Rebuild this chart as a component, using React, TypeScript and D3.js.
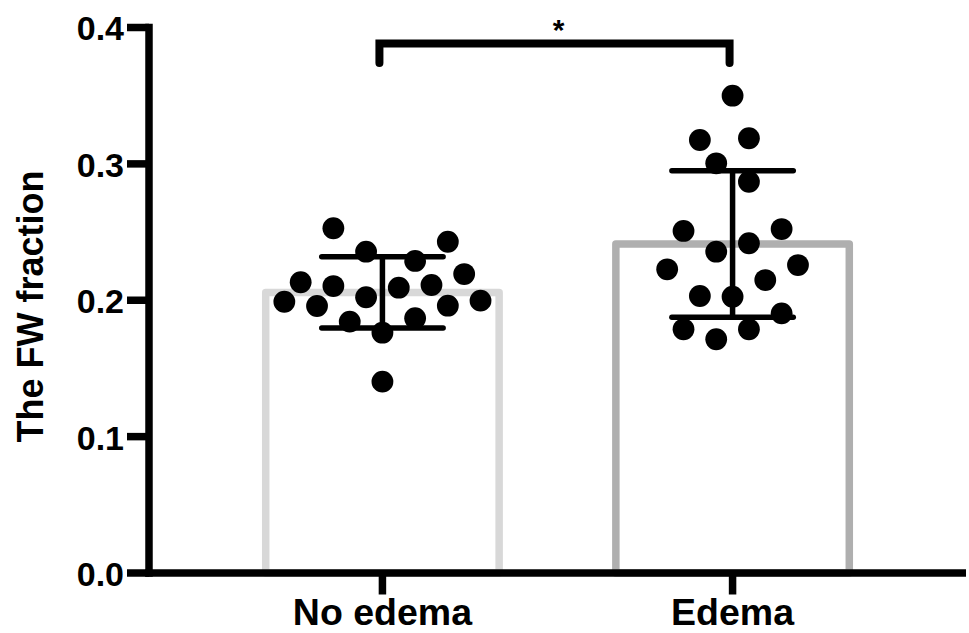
import React from 'react';
import * as d3 from 'd3';

// values
const categories = ['No edema', 'Edema'];
const noEdemaValues = [
  0.2528, 0.2356, 0.2429, 0.2288, 0.2132, 0.2104, 0.2192, 0.2092, 0.2112,
  0.1989, 0.1958, 0.2022, 0.196, 0.1997, 0.1843, 0.1868, 0.1762, 0.1403,
];
const edemaValues = [
  0.35, 0.3175, 0.3188, 0.3004, 0.2869, 0.2508, 0.2522, 0.2418, 0.2356,
  0.2227, 0.2258, 0.2148, 0.2031, 0.2026, 0.1904, 0.1787, 0.1787, 0.1714,
];
// beeswarm column of each dot (0 = on the category centre)
const noEdemaSlots = [-3, -1, 4, 2, -5, -3, 5, 1, 3, -6, -4, -1, 4, 6, -2, 2, 0, 0];
const edemaSlots = [0, -2, 1, -1, 1, -3, 3, 1, -1, -4, 4, 2, -2, 0, 3, -3, 1, -1];
const yTicks = [0, 0.1, 0.2, 0.3, 0.4];
const significance = '*';

const groups = [
  { name: categories[0], values: noEdemaValues, slots: noEdemaSlots, color: '#d8d8d8' },
  { name: categories[1], values: edemaValues, slots: edemaSlots, color: '#afafaf' },
];

const W = 969;
const H = 633;
const font = "'Liberation Sans', Arial, Helvetica, sans-serif";
const lw = 7.5;
const r = 10.9;

export default function App() {
  const x = d3.scaleBand<string>()
    .domain(categories)
    .range([149, 966])
    .paddingInner(1 / 3)
    .paddingOuter(1 / 3);
  const y = d3.scaleLinear().domain([0, 0.4]).range([573, 27.5]);
  const bw = x.bandwidth();
  const fmt = d3.format('.1f');

  const cx = (name: string) => (x(name) as number) + bw / 2;
  const left = cx(categories[0]) - 3;
  const right = cx(categories[1]) - 3;
  const bracketY = y(0.4) + 16;

  return (
    <svg width={W} height={H} style={{ position: 'absolute', left: 0, top: 0, background: '#fff' }}>
      {/* bars */}
      {groups.map(g => {
        const m = d3.mean(g.values) as number;
        return (
          <rect key={g.name}
            x={x(g.name)} y={y(m)} width={bw} height={y(0) - y(m)}
            fill="#fff" stroke={g.color} strokeWidth={lw} strokeLinejoin="round" />
        );
      })}

      {/* dots */}
      {groups.map(g => g.values.map((v, i) => (
        <circle key={g.name + i} cx={cx(g.name) + g.slots[i] * r * 1.5} cy={y(v)} r={r} fill="#000" />
      )))}

      {/* mean ± SD */}
      {groups.map(g => {
        const m = d3.mean(g.values) as number;
        const sd = d3.deviation(g.values) as number;
        const c = cx(g.name);
        const cap = bw * 0.26;
        return (
          <g key={'err' + g.name} stroke="#000" strokeWidth={5.5} strokeLinecap="round">
            <line x1={c} x2={c} y1={y(m + sd)} y2={y(m - sd)} />
            <line x1={c - cap} x2={c + cap} y1={y(m + sd)} y2={y(m + sd)} />
            <line x1={c - cap} x2={c + cap} y1={y(m - sd)} y2={y(m - sd)} />
          </g>
        );
      })}

      {/* y axis */}
      <line x1={149} x2={149} y1={y(0.4) - lw / 2} y2={y(0) + lw / 2} stroke="#000" strokeWidth={lw} />
      {yTicks.map(t => (
        <g key={t}>
          <line x1={127} x2={149} y1={y(t)} y2={y(t)} stroke="#000" strokeWidth={lw} />
          <text x={124} y={y(t)} dy="0.38em" textAnchor="end"
            fontFamily={font} fontWeight="bold" fontSize={34}>{fmt(t)}</text>
        </g>
      ))}

      {/* x axis */}
      <line x1={145.25} x2={966} y1={y(0)} y2={y(0)} stroke="#000" strokeWidth={lw} />
      {categories.map(c => (
        <g key={c}>
          <line x1={cx(c)} x2={cx(c)} y1={y(0)} y2={y(0) + 21.5} stroke="#000" strokeWidth={lw} />
          <text x={cx(c)} y={624.5} textAnchor="middle"
            fontFamily={font} fontWeight="bold" fontSize={37.5}>{c}</text>
        </g>
      ))}

      <text transform="translate(43,306.5) rotate(-90)" textAnchor="middle"
        fontFamily={font} fontWeight="bold" fontSize={36}>The FW fraction</text>

      {/* significance bracket */}
      <path d={`M${left},${bracketY + 19.5}V${bracketY}H${right}V${bracketY + 19.5}`}
        fill="none" stroke="#000" strokeWidth={8} strokeLinecap="round" strokeLinejoin="miter" />
      <text x={(left + right) / 2 + 4} y={39.5} textAnchor="middle"
        fontFamily={font} fontWeight="bold" fontSize={30}>{significance}</text>
    </svg>
  );
}
